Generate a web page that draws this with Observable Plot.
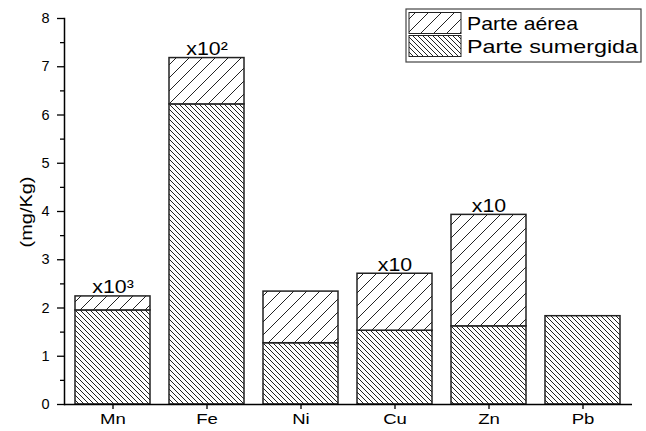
<!DOCTYPE html>
<html>
<head>
<meta charset="utf-8">
<script src="https://cdn.jsdelivr.net/npm/d3@7"></script>
<script src="https://cdn.jsdelivr.net/npm/@observablehq/plot@0.6"></script>
<style>
  html, body { margin: 0; padding: 0; background: #fff; }
  #chart { position: relative; width: 646px; height: 431px; }
</style>
</head>
<body>
<div id="chart"></div>
<script>
// ---- data ----
const elements = ["Mn", "Fe", "Ni", "Cu", "Zn", "Pb"];
const sumergida = [1.95, 6.22, 1.27, 1.53, 1.62, 1.83];
const aerea = [0.29, 0.96, 1.07, 1.18, 2.31, 0];
const seriesNames = ["Parte sumergida", "Parte aérea"];
const annotElements = ["Mn", "Fe", "Cu", "Zn"];
const annotLabels = ["x10³", "x10²", "x10", "x10"];
const yTicks = [0, 1, 2, 3, 4, 5, 6, 7, 8];
const yMinorTicks = [0.5, 1.5, 2.5, 3.5, 4.5, 5.5, 6.5, 7.5];

// long table for stacking (sumergida at bottom)
const rows = [];
elements.forEach((e, i) => {
  rows.push({element: e, series: seriesNames[0], value: sumergida[i]});
  rows.push({element: e, series: seriesNames[1], value: aerea[i]});
});
const totals = elements.map((e, i) => sumergida[i] + aerea[i]);
const annots = annotElements.map((e, i) => ({element: e, label: annotLabels[i], top: totals[elements.indexOf(e)]}));

const patternFor = {"Parte sumergida": "url(#hatchDense)", "Parte aérea": "url(#hatchSparse)"};

const chart = Plot.plot({
  width: 646,
  height: 431,
  marginLeft: 64,
  marginRight: 14,
  marginTop: 18,
  marginBottom: 27,
  style: {fontFamily: "Liberation Sans, Arial, sans-serif", fontSize: "14px", background: "#fff", color: "#000"},
  x: {domain: elements, paddingInner: 0.2, paddingOuter: 0.1, label: null},
  y: {domain: [0, 8], label: null},
  color: {domain: seriesNames, range: seriesNames.map(s => patternFor[s])},
  marks: [
    Plot.barY(rows, Plot.stackY({
      x: "element", y: "value", fill: "series", order: null,
      stroke: "#222", strokeWidth: 1.5
    })),
    Plot.text(annots, {
      x: "element", y: "top", text: "label", dy: -3, lineAnchor: "bottom",
      fontSize: 17.5, fill: "#000"
    }),
    Plot.ruleY([0], {stroke: "#000", strokeWidth: 1.5}),
    Plot.axisY({ticks: yTicks, tickSize: 7, tickPadding: 8, fontSize: 14, label: null, stroke: "#000", strokeWidth: 1.3}),
    Plot.axisY({ticks: yMinorTicks, tickSize: 4, text: null, label: null, stroke: "#000", strokeWidth: 1.3}),
    Plot.axisX({tickSize: 5, tickPadding: 4, fontSize: 14, label: null, stroke: "#000", strokeWidth: 1.3}),
    Plot.frame({anchor: "left", stroke: "#000", strokeWidth: 1.5})
  ]
});

document.getElementById("chart").appendChild(chart);

const svg = d3.select(chart);
// force tick label sizes
svg.selectAll('g[aria-label="y-axis tick label"]').style("font-size", "14.5px").attr("font-size", 14.5);
svg.selectAll('g[aria-label="x-axis tick label"]').style("font-size", "14.5px").attr("font-size", 14.5);

const defs = svg.insert("defs", ":first-child");
function addPattern(id, size) {
  const p = defs.append("pattern")
    .attr("id", id)
    .attr("patternUnits", "userSpaceOnUse")
    .attr("width", size).attr("height", size);
  p.append("rect").attr("width", size).attr("height", size).attr("fill", "#fff");
  return p;
}
// dense "\\\\"
const pd = addPattern("hatchDense", 5);
pd.append("path").attr("d", "M-1,-1 L6,6 M-1,4 L1,6 M4,-1 L6,1")
  .attr("stroke", "#222").attr("stroke-width", 1);
// sparse "////"
const ps = addPattern("hatchSparse", 13);
ps.append("path").attr("d", "M-1,14 L14,-1 M-1,1 L1,-1 M12,14 L14,12")
  .attr("stroke", "#222").attr("stroke-width", 1);

// widen texts a little to match the reference's stretched lettering
function stretch(sel, f) {
  sel.each(function() {
    const w = this.getComputedTextLength();
    if (w > 0) {
      this.setAttribute("textLength", (w * f).toFixed(1));
      this.setAttribute("lengthAdjust", "spacingAndGlyphs");
    }
  });
}
stretch(svg.selectAll('g[aria-label="x-axis tick label"] text'), 1.28);
stretch(svg.selectAll('g[aria-label="text"] text'), 1.22);

// y-axis title
svg.append("text")
  .attr("transform", "translate(32,212) rotate(-90)")
  .attr("text-anchor", "middle")
  .attr("font-size", 17)
  .attr("textLength", 71)
  .attr("lengthAdjust", "spacingAndGlyphs")
  .text("(mg/Kg)");

// legend
const lg = svg.append("g").attr("transform", "translate(406,9)");
lg.append("rect").attr("width", 235).attr("height", 53)
  .attr("fill", "#fff").attr("stroke", "#444").attr("stroke-width", 1.2);
const legendItems = [seriesNames[1], seriesNames[0]];
legendItems.forEach((name, i) => {
  const y0 = 3.5 + i * 23;
  lg.append("rect").attr("x", 3).attr("y", y0).attr("width", 52).attr("height", 21)
    .attr("fill", patternFor[name]).attr("stroke", "#222").attr("stroke-width", 1);
  lg.append("text").attr("x", 61).attr("y", y0 + 17)
    .attr("text-anchor", "start")
    .attr("font-size", 19)
    .attr("textLength", i === 0 ? 111 : 171)
    .attr("lengthAdjust", "spacingAndGlyphs")
    .text(name);
});
</script>
</body>
</html>
